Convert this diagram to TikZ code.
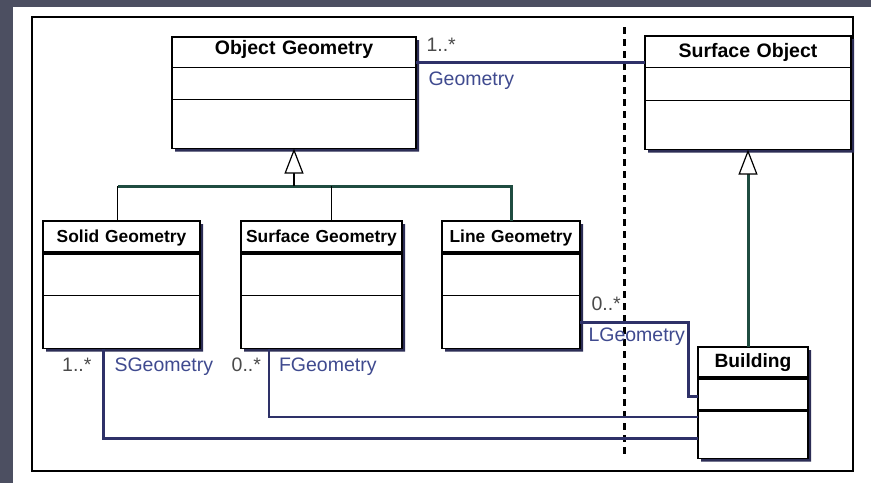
\documentclass[tikz,border=0pt]{standalone}
\usepackage{fontspec}
\setmainfont{Liberation Sans}
\usetikzlibrary{shapes.multipart,arrows.meta,positioning,shadows}
\definecolor{slate}{HTML}{4C4F61}
\definecolor{assocblue}{HTML}{2E3168}
\definecolor{genline}{HTML}{1F4C40}
\definecolor{boxshade}{HTML}{2C2D55}
\definecolor{multgray}{HTML}{4A4A4A}
\definecolor{roleblue}{HTML}{3F4A8F}

\begin{document}
\begin{tikzpicture}[
    x=1pt, y=-1pt,
    cls/.style={rectangle split, rectangle split parts=3, draw, line width=1.2pt, fill=white,
        inner xsep=0pt, inner ysep=0pt, outer sep=0pt, align=center,
        font=\bfseries\fontsize{19.5}{20}\selectfont,
        drop shadow={shadow xshift=3pt, shadow yshift=-3pt, fill=boxshade, opacity=1}},
    subcls/.style={cls, font=\bfseries\fontsize{17.4}{18}\selectfont},
    splitbar/.style={line width=3.5pt},
    assoc/.style={draw=assocblue, line width=3pt},
    thinassoc/.style={draw=assocblue, line width=2pt},
    treeline/.style={line width=1.2pt},
    genbar/.style={draw=genline, line width=3pt},
    gen/.style={-{Triangle[open, length=25pt, width=19pt, fill=white, line width=1.2pt, color=black]}},
    swimlane/.style={line width=3pt, dash pattern=on 7pt off 5pt},
    mult/.style={text=multgray, font=\fontsize{19.5}{20}\selectfont, inner sep=2pt},
    role/.style={mult, text=roleblue}
]
    \useasboundingbox (0,0) rectangle (871,483);
    \fill[slate] (0,0) rectangle (871,483);
    \fill[white] (13,7) rectangle (871,483);
    \draw[line width=2pt] (32,17) rectangle (853,471);

    % classes
    \node[cls, text width=244pt, anchor=north west] (objgeo) at (172,37)
        {\rule[-12pt]{0pt}{29pt}Object Geometry\nodepart{two}\rule{0pt}{31pt}\nodepart{three}\rule{0pt}{48pt}};
    \node[cls, text width=206pt, anchor=north west] (surfobj) at (645,36)
        {\rule[-9pt]{0pt}{30pt}Surface Object\nodepart{two}\rule{0pt}{32pt}\nodepart{three}\rule{0pt}{48pt}};
    \node[subcls, text width=157pt, anchor=north west] (solid) at (43,221)
        {\rule[-10pt]{0pt}{31pt}Solid Geometry\nodepart{two}\rule{0pt}{41pt}\nodepart{three}\rule{0pt}{52pt}};
    \node[subcls, text width=161pt, right=41pt of solid] (surfgeo)
        {\rule[-10pt]{0pt}{31pt}Surface Geometry\nodepart{two}\rule{0pt}{41pt}\nodepart{three}\rule{0pt}{52pt}};
    \node[subcls, text width=138pt, right=40pt of surfgeo] (linegeo)
        {\rule[-10pt]{0pt}{31pt}Line Geometry\nodepart{two}\rule{0pt}{41pt}\nodepart{three}\rule{0pt}{52pt}};
    \node[cls, font=\bfseries\fontsize{19.2}{20}\selectfont, text width=110pt, anchor=north west] (building) at (698,347)
        {\rule[-10pt]{0pt}{30pt}Building\nodepart{two}\rule{0pt}{31pt}\nodepart{three}\rule{0pt}{47pt}};

    \foreach \c in {solid,surfgeo,linegeo,building}
        \draw[splitbar] (\c.text split west) -- (\c.text split east);
    \draw[splitbar] (building.two split west) -- (building.two split east);

    % package border
    \draw[swimlane] (624,27) -- (624,458);

    % generalisations
    \coordinate (genjoin) at (294,186);
    \draw[genbar] (linegeo.north) |- ([xshift=-4pt]solid.north |- genjoin);
    \draw[treeline] ([xshift=-4pt]solid.north) -- ([xshift=-4pt]solid.north |- genjoin);
    \draw[treeline] ([xshift=10pt]surfgeo.north) -- ([xshift=10pt]surfgeo.north |- genjoin);
    \draw[treeline, gen] (genjoin) -- (objgeo.south);
    \draw[genbar, gen] (building.north -| surfobj.south) -- (surfobj.south);

    % associations
    \draw[assoc] ([yshift=-25pt]objgeo.north east) -- ([yshift=-25pt]objgeo.north east -| surfobj.west)
        node[mult, at start, anchor=south west, xshift=7pt, yshift=7pt] {1..*}
        node[role, at start, anchor=north west, xshift=9pt, yshift=-6pt] {Geometry};
    \draw[assoc] ([xshift=-18.5pt]solid.south) |- ([yshift=20pt]building.south west)
        node[mult, at start, anchor=north east, xshift=-8pt, yshift=-6pt] {1..*}
        node[role, at start, anchor=north west, xshift=8pt, yshift=-6pt] {SGeometry};
    \draw[thinassoc] ([xshift=-52.5pt]surfgeo.south) |- ([yshift=42pt]building.south west)
        node[mult, at start, anchor=north east, xshift=-5pt, yshift=-6pt] {0..*}
        node[role, at start, anchor=north west, xshift=7pt, yshift=-6pt] {FGeometry};
    \draw[assoc] ([yshift=-38pt]linegeo.east) -| ([xshift=-10pt, yshift=-49pt]building.north west)
        node[mult, at start, anchor=south west, xshift=8pt, yshift=9pt] {0..*}
        node[role, at start, anchor=north west, xshift=5pt, yshift=-2pt] {LGeometry}
        -- ([yshift=-49pt]building.north west);
\end{tikzpicture}
\end{document}
